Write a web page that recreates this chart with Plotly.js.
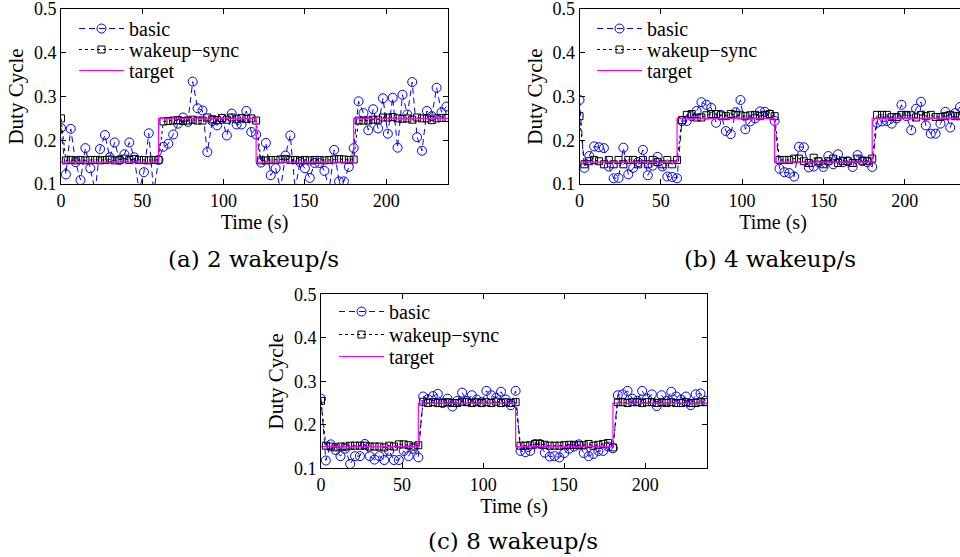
<!DOCTYPE html>
<html>
<head>
<meta charset="utf-8">
<script src="https://cdn.plot.ly/plotly-3.0.1.min.js"></script>
<style>
html,body{margin:0;padding:0;overflow:hidden;background:#fff;}
#wrap{width:960px;height:557px;overflow:hidden;position:relative;}
#chart{width:1000px;height:557px;}
</style>
</head>
<body>
<div id="wrap"><div id="chart"></div></div>
<script>
// ---- data ----
const time = [0,3,6,9,12,15,18,21,24,27,30,33,36,39,42,45,48,51,54,57,
  60,63,66,69,72,75,78,81,84,87,90,93,96,99,102,105,108,111,114,117,
  120,123,126,129,132,135,138,141,144,147,150,153,156,159,162,165,168,171,174,177,
  180,183,186,189,192,195,198,201,204,207,210,213,216,219,222,225,228,231,234,237];

const targetTime = [0,60,60,120,120,180,180,238];
const targetValue = [0.15,0.15,0.25,0.25,0.15,0.15,0.25,0.25];

const basicA = [0.228,0.122,0.226,0.15,0.109,0.182,0.136,0.085,0.18,0.212,
  0.161,0.195,0.155,0.168,0.195,0.161,0.085,0.127,0.216,0.08,
  0.155,0.185,0.192,0.213,0.238,0.252,0.242,0.334,0.273,0.268,
  0.173,0.244,0.234,0.249,0.211,0.261,0.236,0.236,0.267,0.219,
  0.213,0.149,0.194,0.12,0.136,0.088,0.165,0.211,0.088,0.15,
  0.136,0.114,0.148,0.148,0.13,0.088,0.178,0.106,0.106,0.139,
  0.182,0.289,0.262,0.223,0.271,0.227,0.296,0.215,0.297,0.183,
  0.304,0.259,0.333,0.207,0.176,0.267,0.255,0.32,0.264,0.277];
const syncA = [0.25,0.154,0.155,0.154,0.155,0.154,0.155,0.155,0.154,0.155,
  0.156,0.154,0.155,0.158,0.155,0.157,0.155,0.155,0.154,0.155,
  0.155,0.243,0.244,0.245,0.246,0.244,0.245,0.247,0.245,0.245,
  0.252,0.248,0.246,0.251,0.247,0.252,0.248,0.251,0.249,0.25,
  0.245,0.154,0.154,0.155,0.155,0.156,0.157,0.155,0.155,0.154,
  0.155,0.154,0.155,0.155,0.154,0.155,0.156,0.157,0.156,0.155,
  0.156,0.245,0.245,0.245,0.247,0.247,0.252,0.252,0.253,0.25,
  0.249,0.25,0.247,0.252,0.25,0.25,0.246,0.25,0.251,0.251];

const basicB = [0.292,0.137,0.164,0.186,0.184,0.182,0.14,0.113,0.114,0.183,
  0.122,0.137,0.15,0.178,0.12,0.142,0.162,0.14,0.117,0.116,
  0.113,0.244,0.244,0.255,0.267,0.287,0.281,0.274,0.24,0.258,
  0.221,0.214,0.264,0.292,0.225,0.243,0.25,0.266,0.265,0.259,
  0.244,0.135,0.127,0.125,0.117,0.185,0.184,0.138,0.14,0.15,
  0.139,0.164,0.145,0.168,0.15,0.152,0.139,0.166,0.152,0.15,
  0.139,0.24,0.243,0.244,0.238,0.25,0.281,0.255,0.223,0.272,
  0.288,0.234,0.215,0.215,0.238,0.265,0.229,0.262,0.276,0.25];
const syncB = [0.255,0.145,0.152,0.155,0.152,0.145,0.155,0.145,0.155,0.145,
  0.155,0.155,0.145,0.155,0.145,0.155,0.15,0.145,0.155,0.145,
  0.155,0.246,0.258,0.26,0.252,0.252,0.257,0.26,0.26,0.257,
  0.255,0.26,0.258,0.257,0.255,0.257,0.258,0.255,0.258,0.26,
  0.255,0.155,0.155,0.155,0.158,0.158,0.152,0.148,0.16,0.152,
  0.145,0.152,0.158,0.148,0.153,0.152,0.148,0.158,0.153,0.153,
  0.158,0.258,0.258,0.258,0.253,0.253,0.258,0.258,0.257,0.252,
  0.258,0.255,0.258,0.253,0.253,0.255,0.258,0.255,0.255,0.258];

const basicC = [0.26,0.118,0.155,0.142,0.128,0.145,0.11,0.128,0.128,0.156,
  0.128,0.12,0.128,0.119,0.14,0.119,0.119,0.14,0.128,0.145,
  0.125,0.265,0.259,0.266,0.271,0.25,0.26,0.242,0.255,0.274,
  0.255,0.268,0.258,0.252,0.278,0.268,0.262,0.276,0.258,0.245,
  0.278,0.14,0.137,0.14,0.156,0.156,0.136,0.127,0.128,0.125,
  0.135,0.145,0.15,0.155,0.135,0.128,0.133,0.14,0.14,0.15,
  0.146,0.268,0.27,0.278,0.26,0.255,0.278,0.26,0.27,0.243,
  0.268,0.255,0.276,0.265,0.258,0.265,0.245,0.27,0.272,0.255];
const syncC = [0.255,0.152,0.15,0.148,0.15,0.15,0.152,0.152,0.152,0.152,
  0.15,0.15,0.15,0.148,0.152,0.15,0.155,0.155,0.153,0.15,
  0.153,0.253,0.25,0.252,0.25,0.25,0.252,0.25,0.25,0.253,
  0.252,0.25,0.252,0.25,0.252,0.25,0.253,0.25,0.252,0.25,
  0.252,0.152,0.152,0.153,0.156,0.156,0.154,0.152,0.152,0.152,
  0.153,0.154,0.154,0.153,0.153,0.156,0.152,0.154,0.156,0.158,
  0.148,0.252,0.252,0.25,0.252,0.252,0.25,0.252,0.252,0.25,
  0.252,0.25,0.252,0.25,0.25,0.252,0.25,0.25,0.252,0.252];

const seriesNames = ['basic','wakeup\u2212sync','target'];
const captions = ['(a) 2 wakeup/s','(b) 4 wakeup/s','(c) 8 wakeup/s'];
const xTicks = [0,50,100,150,200];
const yTicks = [0.1,0.2,0.3,0.4,0.5];

// ---- build ----
const W = 1000, H = 557;
const FONT = 'Liberation Serif';
const CAPFONT = 'DejaVu Serif';
// panel geometry in page pixels: [left, right, top, bottom], legend left and row tops
const panels = [
  {basic: basicA, sync: syncA, xa: 'x', ya: 'y', box: [61, 448, 9, 184], lgx: 74, lgy: [9, 30, 51]},
  {basic: basicB, sync: syncB, xa: 'x2', ya: 'y2', box: [579.5, 966.5, 9, 184], lgx: 592, lgy: [9, 30, 51]},
  {basic: basicC, sync: syncC, xa: 'x3', ya: 'y3', box: [321, 707, 294.3, 468.3], lgx: 334, lgy: [292, 315, 337]}
];
const traces = [];
const layout = {
  width: W, height: H, margin: {l: 0, r: 0, t: 0, b: 0}, paper_bgcolor: '#fff', plot_bgcolor: '#fff',
  font: {family: FONT, size: 18, color: '#000'},
  showlegend: true, annotations: []
};
function lg(xpx, ypx) {
  return {x: xpx / W, y: (H - ypx) / H, xanchor: 'left', yanchor: 'top', bgcolor: 'rgba(0,0,0,0)',
    borderwidth: 0, itemwidth: 45, tracegroupgap: 0, font: {family: FONT, size: 20, color: '#000'}};
}
let li = 0;
function nextLegend(xpx, ypx) {
  li += 1;
  const key = li === 1 ? 'legend' : 'legend' + li;
  layout[key] = lg(xpx, ypx);
  return key;
}
panels.forEach((p, i) => {
  const sfx = i === 0 ? '' : String(i + 1);
  traces.push({x: time, y: p.basic, xaxis: p.xa, yaxis: p.ya, legend: nextLegend(p.lgx, p.lgy[0]), name: seriesNames[0],
    mode: 'lines+markers', line: {color: '#0000ff', width: 1, dash: '6px,4px'},
    marker: {symbol: 'circle-open', size: 9, color: '#0000ff', line: {width: 1}}});
  traces.push({x: time, y: p.sync, xaxis: p.xa, yaxis: p.ya, legend: nextLegend(p.lgx, p.lgy[1]), name: seriesNames[1],
    mode: 'lines+markers', line: {color: '#000000', width: 1, dash: 'dot'},
    marker: {symbol: 'square-open', size: 7, color: '#000000', line: {width: 1}}});
  traces.push({x: targetTime, y: targetValue, xaxis: p.xa, yaxis: p.ya, legend: nextLegend(p.lgx, p.lgy[2]), name: seriesNames[2],
    mode: 'lines', line: {color: '#ff00ff', width: 1.2}});
  const [l, r, t, b] = p.box;
  layout['xaxis' + sfx] = {domain: [l / W, r / W], anchor: p.ya, range: [0, 238], tickvals: xTicks,
    ticks: 'inside', ticklen: 5, tickcolor: '#000', showline: true, linecolor: '#000', linewidth: 1,
    mirror: 'ticks', showgrid: false, zeroline: false, ticklabeloverflow: 'allow',
    tickfont: {family: FONT, size: 18, color: '#000'},
    title: {text: 'Time (s)', standoff: 0, font: {family: FONT, size: 20, color: '#000'}}};
  layout['yaxis' + sfx] = {domain: [(H - b) / H, (H - t) / H], anchor: p.xa, range: [0.1, 0.5], tickvals: yTicks,
    ticktext: yTicks.map(v => v.toFixed(1)),
    ticks: 'inside', ticklen: 5, tickcolor: '#000', showline: true, linecolor: '#000', linewidth: 1,
    mirror: 'ticks', showgrid: false, zeroline: false, ticklabeloverflow: 'allow',
    tickfont: {family: FONT, size: 18, color: '#000'},
    title: {text: 'Duty Cycle', standoff: 4, font: {family: FONT, size: 21, color: '#000'}}};
});
const capPos = [[253, 259], [770, 259], [513, 541]];
captions.forEach((c, i) => {
  layout.annotations.push({text: c, x: capPos[i][0] / W, y: (H - capPos[i][1]) / H, xref: 'paper', yref: 'paper',
    showarrow: false, xanchor: 'center', yanchor: 'middle', font: {family: CAPFONT, size: 23, color: '#000'}});
});
Plotly.newPlot('chart', traces, layout, {displayModeBar: false, staticPlot: true});
</script>
</body>
</html>
